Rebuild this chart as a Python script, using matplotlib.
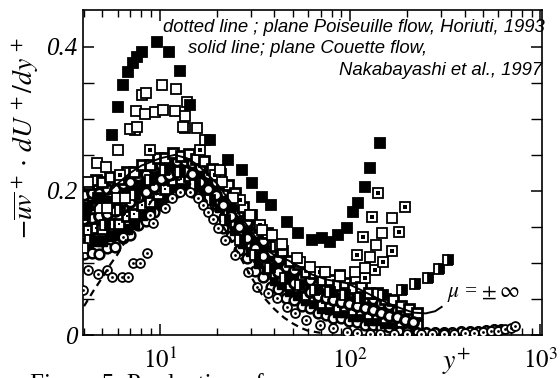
import matplotlib
matplotlib.use("Agg")
import matplotlib.pyplot as plt
from matplotlib.ticker import FixedLocator, NullFormatter, LogLocator

plt.rcParams['mathtext.fontset'] = 'stix'
plt.rcParams['font.family'] = ['Liberation Serif', 'DejaVu Serif']

# ---------------- data ----------------
filled_x = [4.03, 4.72, 5.58, 6.03, 6.38, 6.79, 7.21, 7.56, 8.04, 9.64, 11.2, 12.7, 14.4, 18.3, 22.8,
            27.0, 30.5, 34.4, 38.4, 46.6, 53.2, 63.3, 71.3, 78.5, 86.6, 96.4, 103.7, 110, 120, 127, 144]
filled_y = [0.167, 0.190, 0.278, 0.317, 0.347, 0.365, 0.378, 0.386, 0.393, 0.406, 0.393, 0.367, 0.319,
            0.271, 0.243, 0.229, 0.211, 0.192, 0.181, 0.157, 0.142, 0.132, 0.135, 0.129, 0.139, 0.149,
            0.171, 0.183, 0.206, 0.232, 0.267]

open_x = [3.93, 4.18, 4.66, 4.83, 5.2, 5.26, 5.93, 6.01, 6.54, 6.95, 7.57, 7.47, 8.04, 8.44, 8.34, 9.41,
          10.25, 10.4, 12.0, 12.1, 13.5, 13.9, 13.2, 15.7, 17.2, 20.7, 21.2, 24.2, 29.8, 34.4, 38.8,
          43.8, 52.6, 61.6, 73.8, 88.6, 106, 120, 127, 137, 147, 166]
open_y = [0.121, 0.2125, 0.239, 0.176, 0.233, 0.176, 0.190, 0.257, 0.190, 0.286, 0.289, 0.311, 0.333,
          0.336, 0.306, 0.310, 0.347, 0.3125, 0.311, 0.342, 0.304, 0.324, 0.289, 0.2875, 0.271, 0.229,
          0.2125, 0.190, 0.167, 0.146, 0.139, 0.126, 0.107, 0.094, 0.0875, 0.082, 0.0875, 0.093, 0.108,
          0.125, 0.142, 0.1625]

dotted_x = [4.72, 6.16, 7.38, 8.86, 13.5, 16.2, 19.5, 26.3, 33.6, 42.8, 54.6, 69.5, 88.6, 109, 117,
            120, 131, 135, 140, 149, 166, 181, 194]
dotted_y = [0.181, 0.222, 0.285, 0.257, 0.2875, 0.257, 0.222, 0.1875, 0.153, 0.125, 0.101, 0.0875,
            0.083, 0.111, 0.136, 0.079, 0.164, 0.090, 0.197, 0.101, 0.117, 0.143, 0.178]

half_x = [4.29, 5.13, 6.16, 7.38, 8.86, 10.6, 12.7, 15.3, 18.3, 22.0, 26.3, 31.6, 37.9, 45.4, 54.6,
          65.4, 78.5, 94, 113, 149, 188, 220, 257, 294, 328]
half_y = [0.132, 0.153, 0.174, 0.194, 0.215, 0.229, 0.226, 0.208, 0.1875, 0.160, 0.132, 0.111, 0.093,
          0.079, 0.069, 0.0625, 0.060, 0.056, 0.051, 0.056, 0.0625, 0.071, 0.079, 0.092, 0.104]

ring_x = [3.93, 4.18, 4.72, 5.26, 5.6, 6.3, 6.79, 6.38, 7.21, 7.85, 8.54, 8.86, 9.19, 10.6, 11.6, 12.7,
          14.4, 15.9, 16.8, 17.9, 19.0, 20.2, 22.0, 24.8, 29.0, 32.4, 37.0, 41.3, 46.6, 51.3, 59.0,
          69.5, 81.4, 96.4, 109, 127, 144, 170, 200, 235, 270, 310, 350, 400, 450, 500, 550, 600,
          650, 700, 740]
ring_y = [0.0625, 0.090, 0.085, 0.090, 0.081, 0.081, 0.081, 0.136, 0.100, 0.100, 0.114, 0.167, 0.156,
          0.176, 0.190, 0.199, 0.199, 0.190, 0.181, 0.171, 0.161, 0.149, 0.132, 0.111, 0.0875, 0.067,
          0.058, 0.051, 0.039, 0.031, 0.021, 0.014, 0.0097, 0.0042, 0.003, 0.0015, 0.002, 0.002, 0.002,
          0.002, 0.002, 0.002, 0.002, 0.003, 0.003, 0.004, 0.005, 0.006, 0.008, 0.010, 0.012]

cloud_xa = [4.0, 4.4, 4.8, 5.3, 5.8, 6.4, 7.0, 7.7, 8.5, 9.3, 10.2, 11.2, 12.3, 13.5, 14.8, 16.3, 17.9,
            19.7, 21.6, 23.8, 26.1, 28.7, 31.6, 34.7, 38.2, 42.0, 46.2, 50.8, 55.9, 61.5, 67.6, 74.4,
            81.8, 90.0, 99, 109, 120, 132, 145, 160, 176, 194, 213]
cloud_xb = [4.2, 4.6, 5.0, 5.5, 6.1, 6.7, 7.3, 8.1, 8.9, 9.8, 10.7, 11.8, 12.9, 14.2, 15.5, 17.1, 18.8,
            20.7, 22.7, 25.0, 27.4, 30.1, 33.2, 36.4, 40.1, 44.1, 48.5, 53.3, 58.7, 64.6, 71.0, 78.1,
            85.9, 94.5, 104, 114, 126, 139, 152, 168, 185, 203, 224]
cloud1_y = [0.112, 0.114, 0.113, 0.121, 0.122, 0.134, 0.139, 0.152, 0.158, 0.171, 0.181, 0.196, 0.199,
            0.204, 0.199, 0.194, 0.179, 0.169, 0.148, 0.137, 0.118, 0.107, 0.089, 0.081, 0.067, 0.064,
            0.052, 0.049, 0.040, 0.037, 0.030, 0.028, 0.024, 0.024, 0.019, 0.018, 0.014, 0.014, 0.011,
            0.011, 0.008, 0.007, 0.006]
cloud6_y = [0.128, 0.131, 0.130, 0.137, 0.139, 0.147, 0.154, 0.166, 0.172, 0.183, 0.192, 0.205, 0.208,
            0.211, 0.207, 0.201, 0.188, 0.178, 0.159, 0.146, 0.128, 0.116, 0.100, 0.091, 0.077, 0.071,
            0.061, 0.056, 0.048, 0.045, 0.038, 0.036, 0.032, 0.032, 0.027, 0.026, 0.021, 0.021, 0.017,
            0.016, 0.013, 0.011, 0.009]
cloud2_y = [0.146, 0.149, 0.147, 0.154, 0.154, 0.165, 0.168, 0.180, 0.184, 0.196, 0.203, 0.215, 0.216,
            0.220, 0.214, 0.210, 0.196, 0.187, 0.168, 0.157, 0.138, 0.127, 0.109, 0.101, 0.086, 0.081,
            0.069, 0.066, 0.056, 0.054, 0.045, 0.044, 0.039, 0.040, 0.034, 0.034, 0.029, 0.029, 0.024,
            0.023, 0.018, 0.016, 0.014]
cloud5_y = [0.161, 0.163, 0.165, 0.168, 0.172, 0.178, 0.185, 0.192, 0.199, 0.206, 0.216, 0.222, 0.226,
            0.227, 0.224, 0.213, 0.203, 0.194, 0.180, 0.165, 0.150, 0.135, 0.121, 0.109, 0.097, 0.088,
            0.079, 0.072, 0.066, 0.060, 0.054, 0.051, 0.048, 0.046, 0.043, 0.040, 0.037, 0.034, 0.031,
            0.027, 0.025, 0.021, 0.018]
cloud3_y = [0.177, 0.181, 0.179, 0.186, 0.185, 0.194, 0.197, 0.208, 0.210, 0.220, 0.224, 0.233, 0.232,
            0.235, 0.229, 0.226, 0.213, 0.205, 0.188, 0.177, 0.158, 0.147, 0.130, 0.121, 0.104, 0.098,
            0.085, 0.082, 0.071, 0.070, 0.060, 0.060, 0.054, 0.056, 0.049, 0.050, 0.043, 0.043, 0.037,
            0.035, 0.029, 0.026, 0.022]
cloud7_y = [0.194, 0.197, 0.197, 0.202, 0.203, 0.210, 0.213, 0.221, 0.224, 0.232, 0.236, 0.242, 0.242,
            0.242, 0.238, 0.233, 0.223, 0.213, 0.199, 0.187, 0.170, 0.157, 0.141, 0.130, 0.115, 0.106,
            0.095, 0.090, 0.081, 0.077, 0.069, 0.068, 0.063, 0.063, 0.058, 0.057, 0.052, 0.050, 0.045,
            0.041, 0.035, 0.032, 0.027]
cloud4_y = [0.210, 0.215, 0.213, 0.219, 0.217, 0.226, 0.226, 0.236, 0.236, 0.245, 0.246, 0.252, 0.249,
            0.251, 0.244, 0.242, 0.230, 0.223, 0.208, 0.197, 0.178, 0.167, 0.150, 0.141, 0.123, 0.116,
            0.102, 0.099, 0.088, 0.086, 0.076, 0.077, 0.070, 0.072, 0.065, 0.066, 0.058, 0.058, 0.050,
            0.048, 0.040, 0.036, 0.031]

tail_x = [180, 200, 225, 250, 280, 310, 345, 385, 425, 470, 520, 570, 620]
tail_y = [0.006, 0.005, 0.004, 0.004, 0.004, 0.004, 0.004, 0.005, 0.005, 0.006, 0.007, 0.008, 0.009]

dash_x = [4, 4.5, 5, 5.5, 6, 7, 8, 9, 10, 11, 12, 13, 14, 16, 18, 20, 23, 26, 30, 35, 40, 45, 50, 55, 60, 70]
dash_y = [0.040, 0.062, 0.080, 0.098, 0.112, 0.142, 0.165, 0.185, 0.203, 0.212, 0.216, 0.215, 0.212,
          0.200, 0.183, 0.165, 0.138, 0.112, 0.082, 0.053, 0.036, 0.024, 0.016, 0.010, 0.006, 0.003]

solid_x = [4, 5, 6, 7, 8, 10, 12, 14, 16, 20, 25, 30, 35, 40, 47, 55, 63, 75, 96, 115, 139, 162, 185,
           216, 250, 280, 303]
solid_y = [0.160, 0.190, 0.210, 0.225, 0.235, 0.245, 0.250, 0.245, 0.235, 0.210, 0.175, 0.145, 0.121,
           0.111, 0.104, 0.094, 0.084, 0.077, 0.072, 0.062, 0.051, 0.043, 0.037, 0.031, 0.030, 0.033, 0.039]

x_ticks = [10, 100, 1000]
x_ticklabels = [r'$\mathit{10}^{\mathit{1}}$', r'$\mathit{10}^{\mathit{2}}$', r'$\mathit{10}^{\mathit{3}}$']
y_ticks = [0.0, 0.2, 0.4]
y_ticklabels = ['0', '0.2', '0.4']

# ---------------- figure ----------------
fig = plt.figure(figsize=(5.6, 3.78), dpi=100)
ax = fig.add_axes([83/560, 1-335/378, (542-83)/560, (335-10)/378])
ax.set_xscale('log')
ax.set_xlim(3.95, 1020)
ax.set_ylim(0, 0.451)

K = 'black'
W = 'white'
ms = 6.8
mew = 1.3
cms = 7.0

# cloud
ax.plot(cloud_xa, cloud1_y, 'o', ms=cms, mfc=W, mec=K, mew=1.8, ls='none', zorder=2)
ax.plot(cloud_xb, cloud6_y, 's', ms=cms, mfc=K, mec=K, mew=1.0, ls='none', zorder=2)
ax.plot(cloud_xb, cloud2_y, 's', ms=cms, mfc=W, mec=K, mew=2.0, ls='none', zorder=2)
ax.plot(cloud_xb, cloud2_y, 's', ms=1.6, mfc=K, mec=K, mew=0, ls='none', zorder=2)
ax.plot(cloud_xa, cloud3_y, 's', ms=cms, mfc=K, mec=K, mew=1.0, ls='none', zorder=2)
ax.plot(cloud_xa, cloud7_y, 'o', ms=cms, mfc=W, mec=K, mew=2.2, ls='none', zorder=2)
ax.plot(cloud_xb, cloud4_y, 's', ms=cms, mfc=W, mec=K, mew=2.0, ls='none', zorder=2)
ax.plot(cloud_xa, cloud5_y, 'o', ms=cms, mfc=W, mec=K, mew=2.2, ls='none', zorder=2)
ax.plot(tail_x, tail_y, 'o', ms=6.0, mfc=W, mec=K, mew=2.0, ls='none', zorder=2)

# half-filled squares
ax.plot(half_x, half_y, 's', ms=ms, mfc=K, mfcalt=W, fillstyle='right', mec=K, mew=mew, ls='none', zorder=3)
# dotted squares
ax.plot(dotted_x, dotted_y, 's', ms=ms, mfc=W, mec=K, mew=mew, ls='none', zorder=3)
ax.plot(dotted_x, dotted_y, 's', ms=2.6, mfc=K, mec=K, mew=0, ls='none', zorder=3)
# open squares
ax.plot(open_x, open_y, 's', ms=ms, mfc=W, mec=K, mew=mew, ls='none', zorder=3)
# filled squares
ax.plot(filled_x, filled_y, 's', ms=ms, mfc=K, mec=K, mew=mew, ls='none', zorder=3)
# bullseye circles
ax.plot(ring_x, ring_y, 'o', ms=6.4, mfc=W, mec=K, mew=1.3, ls='none', zorder=3)
ax.plot(ring_x, ring_y, 'o', ms=2.0, mfc=K, mec=K, mew=0, ls='none', zorder=3)

# lines
ax.plot(dash_x, dash_y, ls=(0, (3.2, 2.2)), color=K, lw=1.6, zorder=4)
ax.plot(solid_x, solid_y, ls='-', color=K, lw=1.4, zorder=4)

# axes styling
for s in ax.spines.values():
    s.set_linewidth(1.2)
ax.set_xticks(x_ticks)
ax.set_xticklabels(x_ticklabels)
ax.xaxis.set_minor_locator(LogLocator(base=10, subs=range(2, 10)))
ax.xaxis.set_minor_formatter(NullFormatter())
ax.set_yticks(y_ticks)
ax.set_yticklabels(y_ticklabels)
ax.yaxis.set_minor_locator(FixedLocator([0.05, 0.1, 0.15, 0.25, 0.3, 0.35]))
ax.tick_params(which='major', direction='in', length=8, width=1.1, top=True, right=True,
               labelsize=18, pad=4)
ax.tick_params(which='minor', direction='in', length=5, width=1.0, top=True, right=True)
ax.tick_params(axis='y', which='minor', length=8)
for lab in ax.get_yticklabels():
    lab.set_fontstyle('italic')
ax.tick_params(axis='x', which='major', pad=9)

# texts
sans = ['Liberation Sans', 'DejaVu Sans']
fs = 13.3
ax.text(1.006, 0.947, 'dotted line ; plane Poiseuille flow, Horiuti, 1993', transform=ax.transAxes,
        ha='right', va='center', fontsize=fs, style='italic', family=sans, zorder=6)
ax.text((188-83)/459, 0.882, 'solid line; plane Couette flow,', transform=ax.transAxes,
        ha='left', va='center', fontsize=fs, style='italic', family=sans, zorder=6)
ax.text(1.0, 0.815, 'Nakabayashi et al., 1997', transform=ax.transAxes,
        ha='right', va='center', fontsize=fs, style='italic', family=sans, zorder=6)
ax.text((447-83)/459, 0.125, r'$\mu$ = $\pm\,\infty$', transform=ax.transAxes,
        ha='left', va='center', fontsize=15.5, zorder=6)
fig.text(457/560, 1-362/378, r'$y^{+}$', ha='center', va='center', fontsize=20)
fig.text(26/560, 1-138/378, r'$-\overline{uv}^{\,+}\cdot\, dU^{\,+}/dy^{\,+}$', rotation=90,
         ha='center', va='center', fontsize=20)
fig.text(30/560, -0.034, 'Figure 5. Production of', ha='left', va='baseline', fontsize=18)

fig.savefig('out.png', dpi=100)
